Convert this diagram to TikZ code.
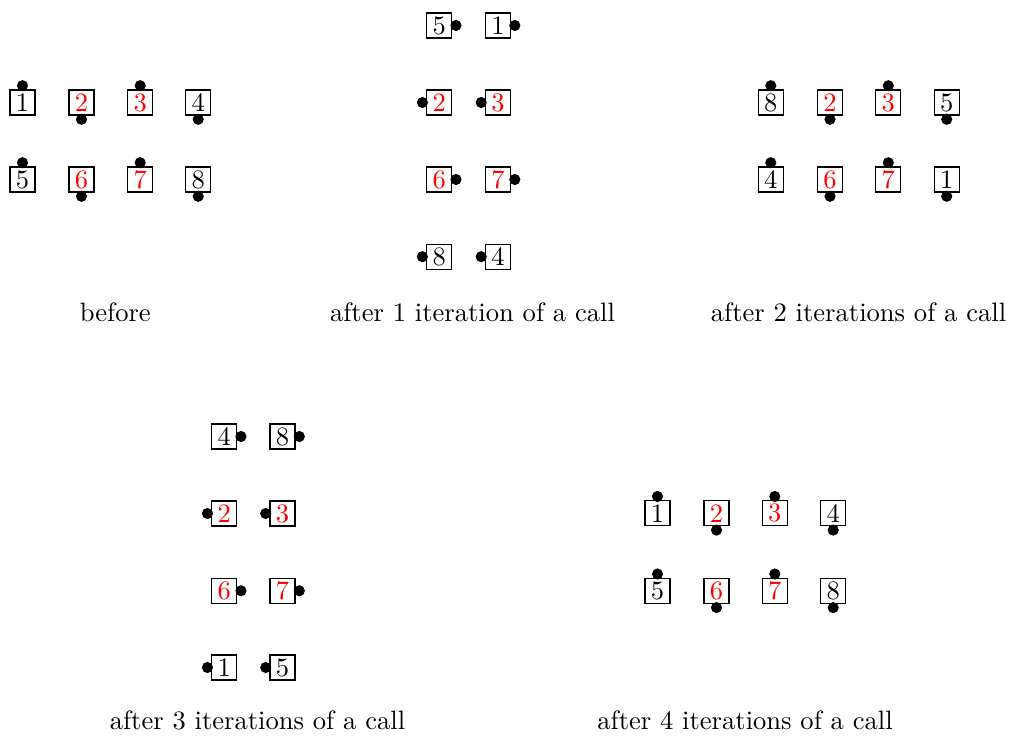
\documentclass[tikz,border=0pt]{standalone}
\begin{document}
\begin{tikzpicture}[x=0.3766pt,y=-0.3766pt,
  cell/.style={draw, line width=0.45pt, minimum width=9.4pt, minimum height=9.4pt, inner sep=0pt, fill=white},
  lbl/.style={anchor=base, inner sep=0pt}]
\useasboundingbox (0,0) rectangle (1009,736);
% name/x/y/digit/color/angle of dot
\foreach \n/\x/\y/\d/\c/\a in {
  a1/22.5/102.5/1/black/90, a2/81.5/102.5/2/red/270, a3/140.2/102.5/3/red/90, a4/198.2/102.5/4/black/270,
  a5/22.5/179.5/5/black/90, a6/81.5/179.5/6/red/270, a7/140.2/179.5/7/red/90, a8/198.2/179.5/8/black/270,
  b5/439.2/25.5/5/black/0, b1/498/25.5/1/black/0,
  b2/439.2/102.5/2/red/180, b3/498/102.5/3/red/180,
  b6/439.2/179.5/6/red/0, b7/498/179.5/7/red/0,
  b8/439.2/256.7/8/black/180, b4/498/256.7/4/black/180,
  c8/770.8/102.5/8/black/90, c2/830/102.5/2/red/270, c3/888.3/102.5/3/red/90, c5/946.7/102.5/5/black/270,
  c4/770.8/179.5/4/black/90, c6/830/179.5/6/red/270, c7/888.3/179.5/7/red/90, c1/946.7/179.5/1/black/270,
  d4/224.2/436.5/4/black/0, d8/282.5/436.5/8/black/0,
  d2/224.2/513.5/2/red/180, d3/282.5/513.5/3/red/180,
  d6/224.2/590.8/6/red/0, d7/282.5/590.8/7/red/0,
  d1/224.2/667.5/1/black/180, d5/282.5/667.5/5/black/180,
  e1/657.5/513.3/1/black/90, e2/716.5/513.3/2/red/270, e3/774.8/513.3/3/red/90, e4/833.2/513.3/4/black/270,
  e5/657.5/590.8/5/black/90, e6/716.5/590.8/6/red/270, e7/774.8/590.8/7/red/90, e8/833.2/590.8/8/black/270}
{
  \node[cell, text=\c] (\n) at (\x,\y) {\d};
  \fill ([shift={(\a:1.4pt)}]\n.\a) circle (2.1pt);
}
\node[lbl] (l1) at (115.3,321.7) {before};
\node[lbl] (l2) at (472.5,321.7) {after 1 iteration of a call};
\node[lbl] (l3) at (858.5,321.7) {after 2 iterations of a call};
\node[lbl] (l4) at (257.5,729) {after 3 iterations of a call};
\node[lbl] (l5) at (745,729) {after 4 iterations of a call};
\end{tikzpicture}
\end{document}
